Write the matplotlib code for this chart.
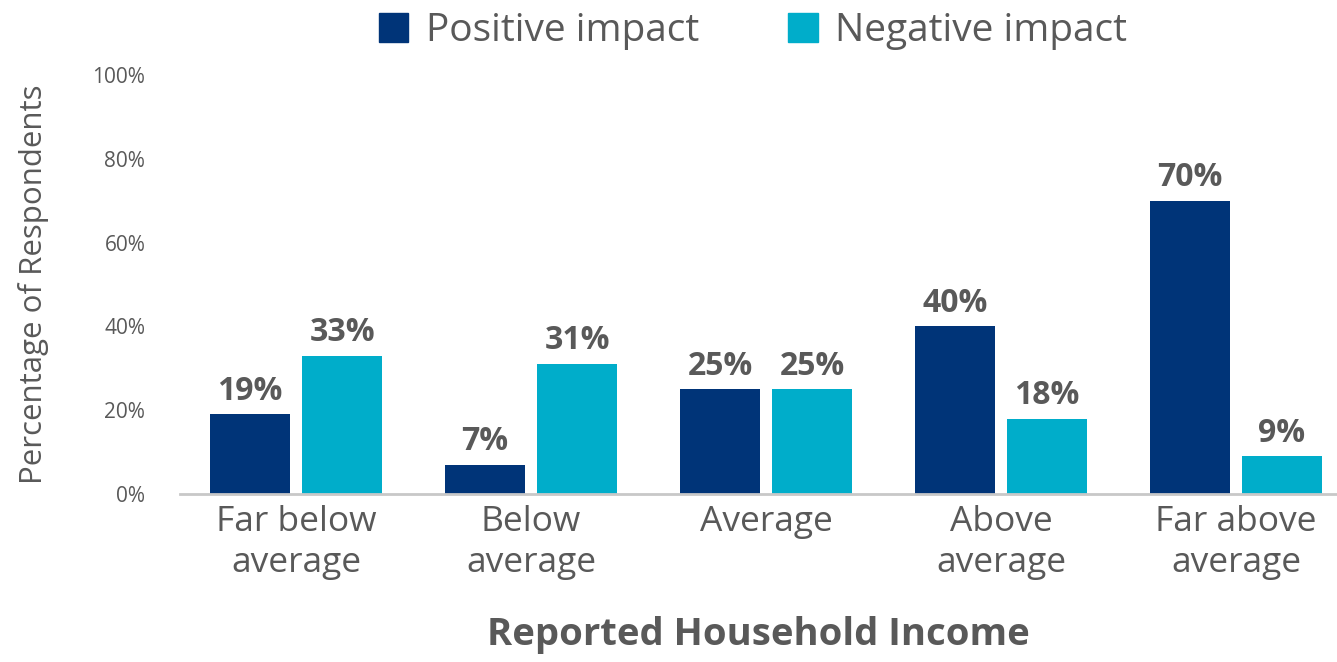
import matplotlib.pyplot as plt
import numpy as np
from matplotlib.patches import Patch

plt.rcParams['font.family'] = ['Open Sans', 'DejaVu Sans']

categories = ["Far below\naverage", "Below\naverage", "Average", "Above\naverage", "Far above\naverage"]
positive = [19, 7, 25, 40, 70]
negative = [33, 31, 25, 18, 9]
series_names = ["Positive impact", "Negative impact"]
yticks = [0, 20, 40, 60, 80, 100]

navy = "#003478"
cyan = "#00adca"
grey_text = "#595959"

fig = plt.figure(figsize=(13.37, 6.62), dpi=100)
ax = fig.add_axes([180 / 1337, 1 - 494 / 662, 1157 / 1337, 419 / 662])

x = np.arange(len(categories))
w = 0.34
off = 0.196
b1 = ax.bar(x - off, positive, w, color=navy)
b2 = ax.bar(x + off, negative, w, color=cyan)

for bars, vals in ((b1, positive), (b2, negative)):
    for b, v in zip(bars, vals):
        ax.text(b.get_x() + b.get_width() / 2, v + 1.6, "%d%%" % v,
                ha="center", va="bottom", fontsize=23, fontweight="bold",
                color=grey_text)

ax.set_xlim(-0.494, 4.43)
ax.set_ylim(0, 100)
ax.set_yticks(yticks)
ax.set_yticklabels(["%d%%" % t for t in yticks])
ax.set_xticks(x)
ax.set_xticklabels(categories, fontsize=25.5, color=grey_text, linespacing=1.27)
ax.tick_params(axis="y", length=0, pad=25, labelsize=15, labelcolor=grey_text)
ax.tick_params(axis="x", length=0, pad=8)

for s in ("top", "right", "left"):
    ax.spines[s].set_visible(False)
ax.spines["bottom"].set_color("#c8c8c8")
ax.spines["bottom"].set_linewidth(2)

ax.set_ylabel("Percentage of Respondents", fontsize=22.5, color=grey_text)
ax.yaxis.set_label_coords(-0.113, 0.5)
ax.set_xlabel("Reported Household Income", fontsize=27.5, fontweight="bold",
              color=grey_text, labelpad=26)

handles = [Patch(color=navy), Patch(color=cyan)]
fig.legend(handles, series_names, loc="upper center", bbox_to_anchor=(753 / 1337, 1.035),
           ncol=2, frameon=False, fontsize=28, labelcolor=grey_text,
           handlelength=0.75, handleheight=0.75, handletextpad=0.45, columnspacing=2.3)

fig.savefig("out.png", dpi=100)
